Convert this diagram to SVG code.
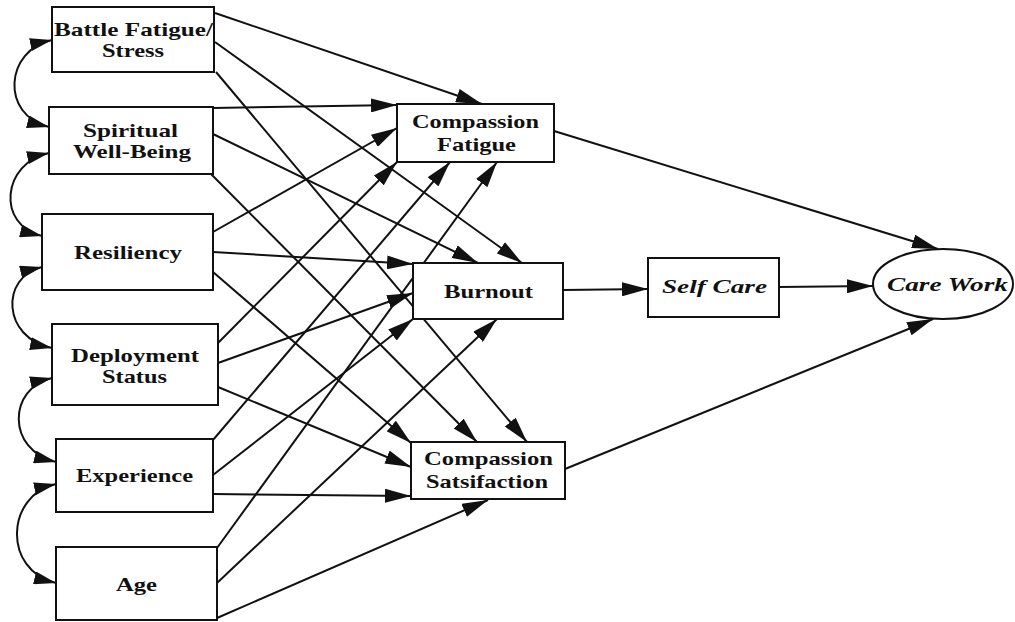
<svg xmlns="http://www.w3.org/2000/svg" width="1015" height="622" viewBox="0 0 1015 622">
  <style>
    .box { fill: #fff; stroke: #111; stroke-width: 2; }
    .lbl { font-family: "Liberation Serif", "Times New Roman", serif; font-weight: bold; font-size: 19.5px; fill: #111; }
    .it { font-style: italic; }
    .edge { fill: none; stroke: #111; stroke-width: 2; marker-end: url(#arr); }
    .cov { fill: none; stroke: #111; stroke-width: 2; marker-start: url(#arrs); marker-end: url(#arrs); }
  </style>
  <defs>
    <marker id="arr" markerUnits="userSpaceOnUse" markerWidth="27" markerHeight="14" refX="26" refY="7" orient="auto">
      <path d="M0,0 L26,7 L0,14 z" fill="#111"/>
    </marker>
    <marker id="arrs" markerUnits="userSpaceOnUse" markerWidth="23" markerHeight="13" refX="22" refY="6.5" orient="auto-start-reverse">
      <path d="M0,0 L22,6.5 L0,13 z" fill="#111"/>
    </marker>
  </defs>
  <rect width="1015" height="622" fill="#fff"/>

  <!-- paths between the measures -->
  <g id="connectors">
    <!-- Battle Fatigue/Stress -->
    <line class="edge" x1="215" y1="13" x2="482" y2="104"/>
    <line class="edge" x1="215" y1="42" x2="522" y2="263"/>
    <line class="edge" x1="216" y1="72" x2="527" y2="442"/>
    <!-- Spiritual Well-Being -->
    <line class="edge" x1="213" y1="108" x2="397" y2="105"/>
    <line class="edge" x1="213" y1="134" x2="478" y2="263"/>
    <line class="edge" x1="211" y1="174" x2="477" y2="442"/>
    <!-- Resiliency -->
    <line class="edge" x1="213" y1="232" x2="397" y2="128"/>
    <line class="edge" x1="213" y1="252" x2="413" y2="264"/>
    <line class="edge" x1="213" y1="272" x2="411" y2="443"/>
    <!-- Deployment Status -->
    <line class="edge" x1="218" y1="343" x2="397" y2="162"/>
    <line class="edge" x1="218" y1="363" x2="413" y2="293"/>
    <line class="edge" x1="218" y1="387" x2="411" y2="467"/>
    <!-- Experience -->
    <line class="edge" x1="213" y1="440" x2="450" y2="162"/>
    <line class="edge" x1="213" y1="475" x2="413" y2="319"/>
    <line class="edge" x1="213" y1="494" x2="411" y2="496"/>
    <!-- Age -->
    <line class="edge" x1="217" y1="548" x2="497" y2="162"/>
    <line class="edge" x1="217" y1="583" x2="497" y2="319"/>
    <line class="edge" x1="217" y1="618" x2="488" y2="500"/>
    <!-- outcomes -->
    <line class="edge" x1="554" y1="131" x2="938" y2="249"/>
    <line class="edge" x1="563" y1="290" x2="648" y2="289"/>
    <line class="edge" x1="779" y1="287" x2="873" y2="286"/>
    <line class="edge" x1="565" y1="469" x2="933" y2="319"/>
    <!-- correlations between neighbouring predictors -->
    <path class="cov" d="M52,40 C5,50 0,115 49,127"/>
    <path class="cov" d="M49,153 C2,163 -4,225 42,236"/>
    <path class="cov" d="M42,267 C0,277 2,338 52,348"/>
    <path class="cov" d="M52,378 C8,388 6,450 56,462"/>
    <path class="cov" d="M56,484 C6,495 2,570 56,583"/>
  </g>

  <g id="battle">
    <rect class="box" x="52" y="7" width="162" height="65"/>
    <text class="lbl" x="54" y="36" textLength="159" lengthAdjust="spacingAndGlyphs">Battle Fatigue/</text>
    <text class="lbl" x="102" y="57" textLength="62" lengthAdjust="spacingAndGlyphs">Stress</text>
  </g>
  <g id="spiritual">
    <rect class="box" x="49" y="107" width="164" height="67"/>
    <text class="lbl" x="83" y="137" textLength="95" lengthAdjust="spacingAndGlyphs">Spiritual</text>
    <text class="lbl" x="73" y="158" textLength="118" lengthAdjust="spacingAndGlyphs">Well-Being</text>
  </g>
  <g id="resiliency">
    <rect class="box" x="42" y="214" width="171" height="76"/>
    <text class="lbl" x="74" y="259" textLength="108" lengthAdjust="spacingAndGlyphs">Resiliency</text>
  </g>
  <g id="deployment">
    <rect class="box" x="52" y="324" width="166" height="81"/>
    <text class="lbl" x="71" y="362" textLength="128" lengthAdjust="spacingAndGlyphs">Deployment</text>
    <text class="lbl" x="102" y="383" textLength="65" lengthAdjust="spacingAndGlyphs">Status</text>
  </g>
  <g id="experience">
    <rect class="box" x="56" y="439" width="157" height="73"/>
    <text class="lbl" x="76" y="482" textLength="117" lengthAdjust="spacingAndGlyphs">Experience</text>
  </g>
  <g id="age">
    <rect class="box" x="56" y="547" width="161" height="73"/>
    <text class="lbl" x="116" y="591" textLength="41" lengthAdjust="spacingAndGlyphs">Age</text>
  </g>
  <g id="compassion-fatigue">
    <rect class="box" x="397" y="104" width="157" height="58"/>
    <text class="lbl" x="412" y="128" textLength="127" lengthAdjust="spacingAndGlyphs">Compassion</text>
    <text class="lbl" x="437" y="151" textLength="79" lengthAdjust="spacingAndGlyphs">Fatigue</text>
  </g>
  <g id="burnout">
    <rect class="box" x="413" y="263" width="150" height="56"/>
    <text class="lbl" x="444" y="298" textLength="89" lengthAdjust="spacingAndGlyphs">Burnout</text>
  </g>
  <g id="compassion-satisfaction">
    <rect class="box" x="411" y="442" width="154" height="57"/>
    <text class="lbl" x="424" y="465" textLength="129" lengthAdjust="spacingAndGlyphs">Compassion</text>
    <text class="lbl" x="426" y="488" textLength="122" lengthAdjust="spacingAndGlyphs">Satsifaction</text>
  </g>
  <g id="self-care">
    <rect class="box" x="648" y="258" width="131" height="59"/>
    <text class="lbl it" x="662" y="293" textLength="105" lengthAdjust="spacingAndGlyphs">Self Care</text>
  </g>
  <g id="care-work">
    <ellipse class="box" cx="943" cy="284" rx="70" ry="35"/>
    <text class="lbl it" x="887" y="291" textLength="121" lengthAdjust="spacingAndGlyphs">Care Work</text>
  </g>
</svg>
